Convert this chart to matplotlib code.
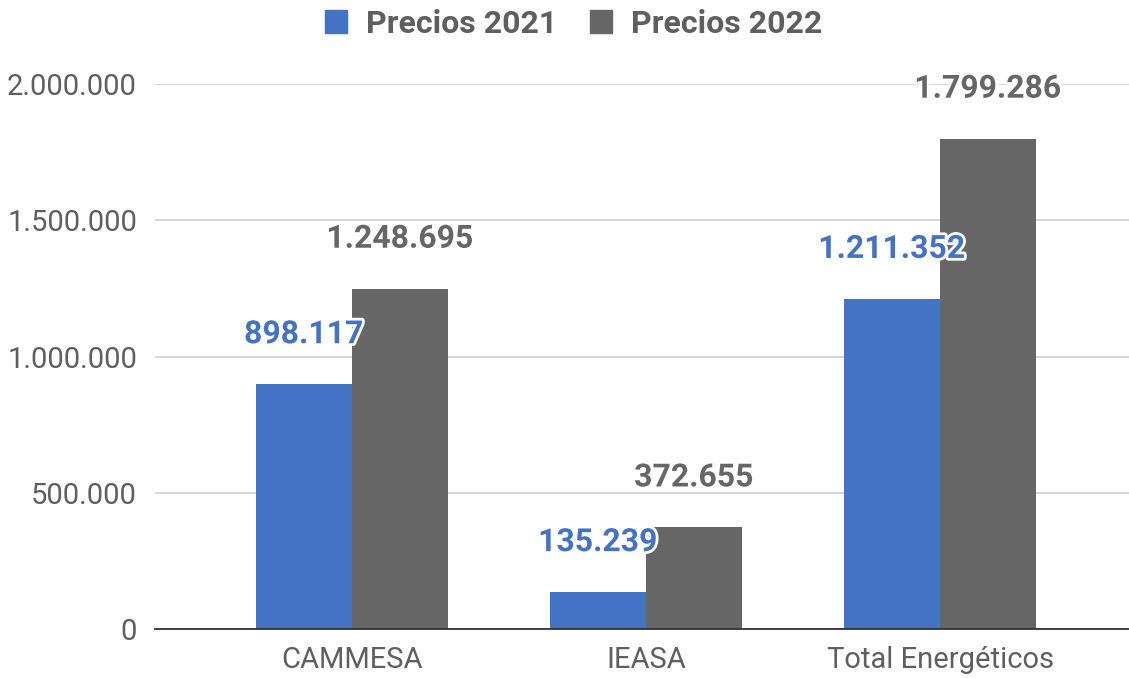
import matplotlib.pyplot as plt
import matplotlib.patheffects as pe
from matplotlib.patches import Patch
import numpy as np

plt.rcParams['font.family'] = ['Roboto', 'DejaVu Sans']

categorias = ['CAMMESA', 'IEASA', 'Total Energéticos']
precios_2021 = [898117, 135239, 1211352]
precios_2022 = [1248695, 372655, 1799286]
ticks_y = [0, 500000, 1000000, 1500000, 2000000]

AZUL = '#4472c4'
GRIS = '#666666'
TEXTO = '#5f5f5f'


def fmt(v):
    return f'{v:,}'.replace(',', '.')


fig = plt.figure(figsize=(11.29, 6.78), dpi=100)
ax = fig.add_axes([155 / 1129, 1 - 629 / 678, 1 - 155 / 1129, (629 - 84) / 678])

x = np.arange(len(categorias))
ancho = 0.327
b1 = ax.bar(x - ancho / 2, precios_2021, ancho, color=AZUL, zorder=3)
b2 = ax.bar(x + ancho / 2, precios_2022, ancho, color=GRIS, zorder=3)

halo = [pe.withStroke(linewidth=4, foreground='white')]
for barras, col in ((b1, AZUL), (b2, GRIS)):
    for b in barras:
        h = b.get_height()
        ax.annotate(fmt(int(h)), (b.get_x() + b.get_width() / 2, h),
                    xytext=(0, 36), textcoords='offset points',
                    ha='center', va='center', fontsize=23, fontweight='bold',
                    color=col, path_effects=halo, zorder=5, annotation_clip=False)

ax.set_ylim(0, 2000000)
ax.set_xlim((155 - 352) / 294, (1129 - 352) / 294)
ax.set_yticks(ticks_y)
ax.set_yticklabels([fmt(t) for t in ticks_y])
ax.set_xticks(x)
ax.set_xticklabels(categorias)
ax.tick_params(axis='both', length=0, labelsize=21, labelcolor=TEXTO)
ax.tick_params(axis='y', pad=13)
ax.tick_params(axis='x', pad=12)

ax.grid(axis='y', color='#d6d6d6', linewidth=1.3, zorder=0)
for s in ['top', 'right', 'left']:
    ax.spines[s].set_visible(False)
ax.spines['bottom'].set_color('#333333')
ax.spines['bottom'].set_linewidth(1.3)
ax.spines['bottom'].set_zorder(4)

handles = [Patch(color=AZUL, label='Precios 2021'), Patch(color=GRIS, label='Precios 2022')]
leg = fig.legend(handles=handles, loc='center', bbox_to_anchor=(0.508, 0.965), ncol=2,
                 frameon=False, prop={'size': 23, 'weight': 'bold'},
                 handlelength=0.7, handleheight=0.7, handletextpad=0.6, columnspacing=1.0)
for t in leg.get_texts():
    t.set_color(TEXTO)

fig.savefig('out.png', dpi=100)
